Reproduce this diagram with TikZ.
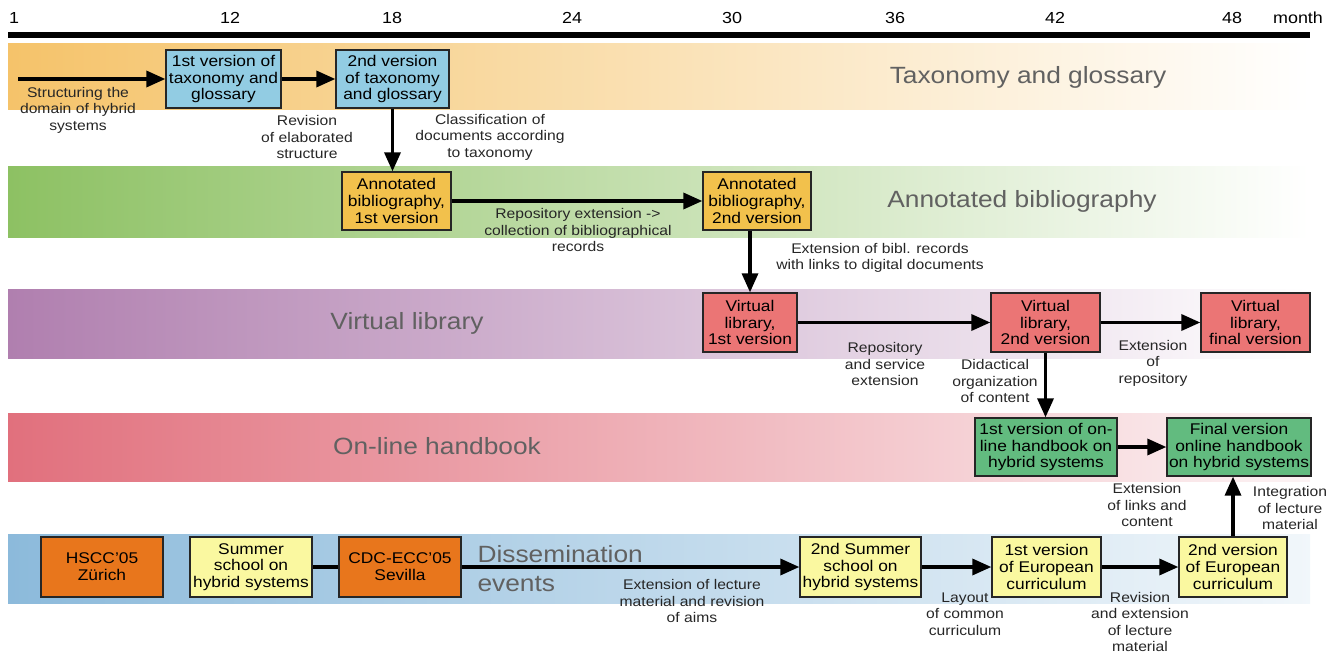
\documentclass[tikz,border=0pt]{standalone}
\usepackage{fontspec}
\setmainfont[FakeStretch=1.12]{Liberation Sans}
\usetikzlibrary{arrows.meta}

\definecolor{taxband}{HTML}{F5C36A}
\definecolor{taxmid}{HTML}{F3DFB5}
\definecolor{bibband}{HTML}{8DC163}
\definecolor{bibmid}{HTML}{C9E0B0}
\definecolor{libband}{HTML}{B07FAF}
\definecolor{libmid}{HTML}{D8BDD8}
\definecolor{hbband}{HTML}{E1707D}
\definecolor{hbmid}{HTML}{EDB4BB}
\definecolor{dissband}{HTML}{8CBADB}
\definecolor{dissmid}{HTML}{C6D9E6}
\definecolor{taxbox}{HTML}{92CCE3}
\definecolor{bibbox}{HTML}{F2C14C}
\definecolor{libbox}{HTML}{EB7575}
\definecolor{hbbox}{HTML}{62BB7F}
\definecolor{confbox}{HTML}{E8761C}
\definecolor{eduBox}{HTML}{FAF8A0}

\begin{document}
\begin{tikzpicture}[x=1pt, y=-1pt,
	box/.style={draw=black!85, line width=1.3pt, align=center, inner sep=0pt, font=\fontsize{15.5}{16.8}\selectfont},
	note/.style={align=center, text=black!85, font=\fontsize{14}{16.5}\selectfont},
	bandtitle/.style={text=black!62, font=\fontsize{23.5}{29}\selectfont},
	flow/.style={line width=3.4pt, -{Triangle[length=19pt,width=16pt]}}]
	\useasboundingbox (0,0) rectangle (1338,655);
	% Time axis:
	\draw[line width=6pt] (8,35) -- (1310,35);
	\foreach \x/\m in {14/1, 230/12, 392/18, 572/24, 732/30, 895/36, 1055/42, 1232/48, 1298/month}
		\node[font=\fontsize{16}{18}\selectfont] at (\x,18) {\m};
	% Bands:
	\shade[left color=taxband, middle color=taxmid, right color=white] (8,44) rectangle (1310,110);
	\shade[left color=bibband, middle color=bibmid, right color=white] (8,167) rectangle (1310,237);
	\shade[left color=libband, middle color=libmid, right color=white] (8,289) rectangle (1310,358);
	\shade[left color=hbband, middle color=hbmid, right color=hbband!8] (8,413) rectangle (1310,481);
	\shade[left color=dissband, middle color=dissmid, right color=dissband!12] (8,534) rectangle (1310,603);
	\node[bandtitle] (taxtitle) at (1028,77) {Taxonomy and glossary};
	\node[bandtitle] (bibtitle) at (1022,201) {Annotated bibliography};
	\node[bandtitle] (libtitle) at (407,323) {Virtual library};
	\node[bandtitle] (hbtitle) at (437,446) {On-line handbook};
	\node[bandtitle, align=left, anchor=west] (disstitle) at (474,569) {Dissemination\\events};
	% Boxes:
	\node[box, fill=taxbox, minimum width=115, minimum height=58] (tax1) at (223.5,79) {1st version of\\taxonomy and\\glossary};
	\node[box, fill=taxbox, minimum width=113, minimum height=58] (tax2) at (392.5,79) {2nd version\\of taxonomy\\and glossary};
	\node[box, fill=bibbox, minimum width=109, minimum height=58] (bib1) at (396.5,201) {Annotated\\bibliography,\\1st version};
	\node[box, fill=bibbox, minimum width=108, minimum height=58] (bib2) at (757,201) {Annotated\\bibliography,\\2nd version};
	\node[box, fill=libbox, minimum width=94, minimum height=59] (lib1) at (750,322.5) {Virtual\\library,\\1st version};
	\node[box, fill=libbox, minimum width=109, minimum height=59] (lib2) at (1045.5,322.5) {Virtual\\library,\\2nd version};
	\node[box, fill=libbox, minimum width=109, minimum height=59] (lib3) at (1255.5,322.5) {Virtual\\library,\\final version};
	\node[box, fill=hbbox, minimum width=142, minimum height=58] (hb1) at (1046,447) {1st version of on-\\line handbook on\\hybrid systems};
	\node[box, fill=hbbox, minimum width=144, minimum height=58] (hb2) at (1239,447) {Final version\\online handbook\\on hybrid systems};
	\node[box, fill=confbox, minimum width=122, minimum height=60] (hscc) at (102,567) {HSCC'05\\Zürich};
	\node[box, fill=eduBox, minimum width=122, minimum height=60] (school1) at (251,567) {Summer\\school on\\hybrid systems};
	\node[box, fill=confbox, minimum width=122, minimum height=60] (cdc) at (400,567) {CDC-ECC'05\\Sevilla};
	\node[box, fill=eduBox, minimum width=121, minimum height=60] (school2) at (860.5,567) {2nd Summer\\school on\\hybrid systems};
	\node[box, fill=eduBox, minimum width=109, minimum height=60] (cur1) at (1046.5,567) {1st version\\of European\\curriculum};
	\node[box, fill=eduBox, minimum width=108, minimum height=60] (cur2) at (1233,567) {2nd version\\of European\\curriculum};
	% Connectors:
	\coordinate (start) at (18,79);
	\draw[flow] (start) -- (tax1);
	\draw[flow] (tax1) -- (tax2);
	\draw[flow] (tax2.south) -- (tax2.south |- bib1.north);
	\draw[flow] (bib1) -- (bib2);
	\draw[flow] (lib1.north |- bib2.south) -- (lib1.north);
	\draw[flow] (lib1) -- (lib2);
	\draw[flow] (lib2) -- (lib3);
	\draw[flow] (lib2.south) -- (lib2.south |- hb1.north);
	\draw[flow] (hb1) -- (hb2);
	\draw[flow] (cur2.north) -- (cur2.north |- hb2.south);
	\draw[line width=3.4pt] (school1) -- (cdc);
	\draw[flow] (cdc) -- (school2);
	\draw[flow] (school2) -- (cur1);
	\draw[flow] (cur1) -- (cur2);
	% Labels:
	\node[note] (n1) at (78,110) {Structuring the\\domain of hybrid\\systems};
	\node[note] (n2) at (307,137) {Revision\\of elaborated\\structure};
	\node[note] (n3) at (490,137) {Classification of\\documents according\\to taxonomy};
	\node[note] (n4) at (578,230) {Repository extension ->\\collection of bibliographical\\records};
	\node[note] (n5) at (880,258) {Extension of bibl. records\\with links to digital documents};
	\node[note] (n6) at (885,364) {Repository\\and service\\extension};
	\node[note] (n7) at (995,381) {Didactical\\organization\\of content};
	\node[note] (n8) at (1153,363) {Extension\\of\\repository};
	\node[note] (n9) at (1147,505) {Extension\\of links and\\content};
	\node[note] (n10) at (1290,508) {Integration\\of lecture\\material};
	\node[note] (n11) at (692,601) {Extension of lecture\\material and revision\\of aims};
	\node[note] (n12) at (965,614) {Layout\\of common\\curriculum};
	\node[note] (n13) at (1140,622) {Revision\\and extension\\of lecture\\material};
\end{tikzpicture}
\end{document}
